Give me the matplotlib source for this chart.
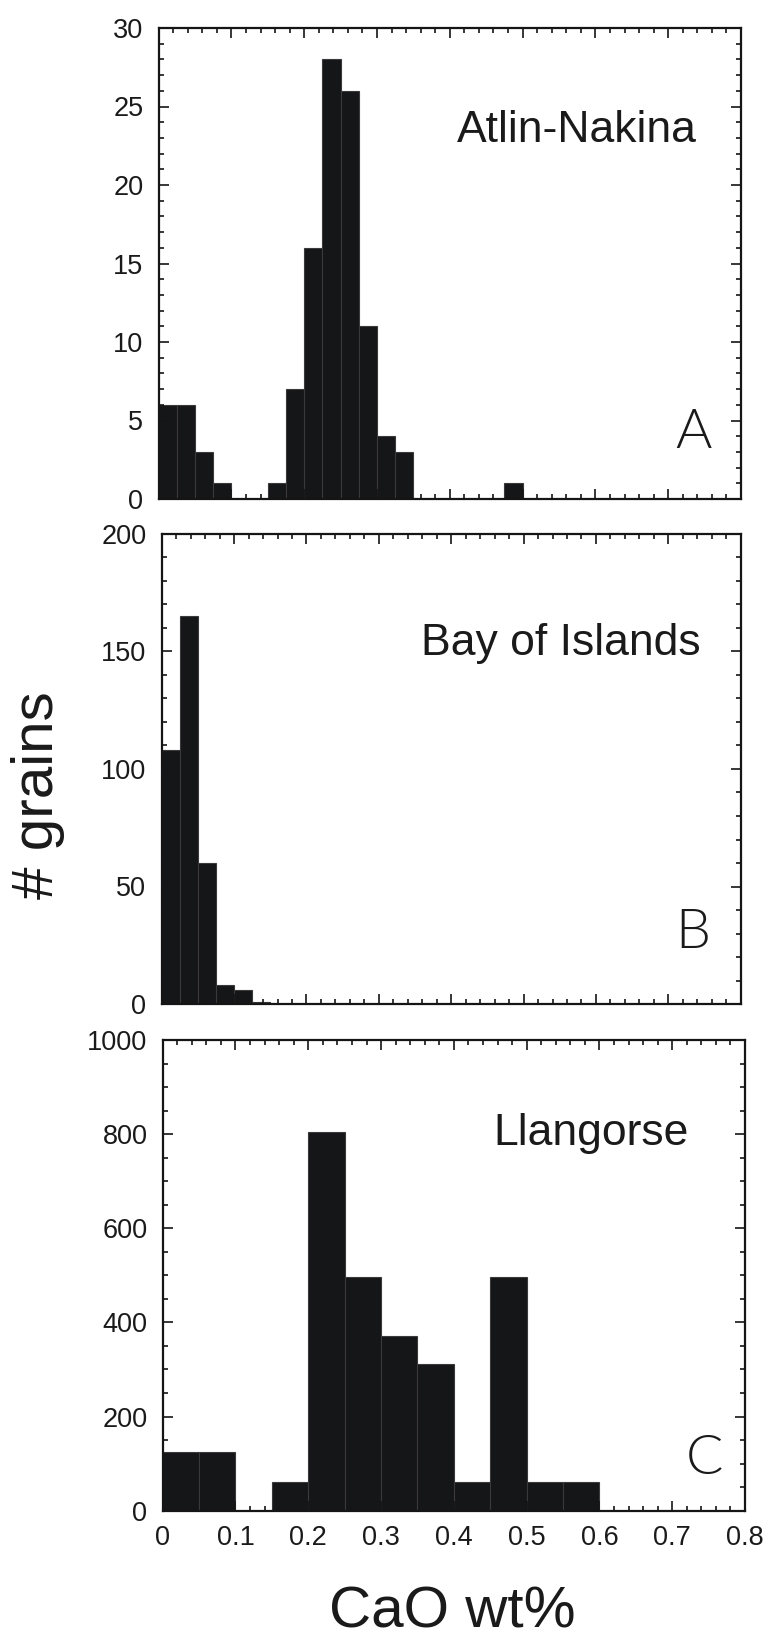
import numpy as np
import matplotlib
matplotlib.use("Agg")
import matplotlib.pyplot as plt
from matplotlib.ticker import MultipleLocator, FuncFormatter

plt.rcParams['font.family'] = ['Liberation Sans', 'DejaVu Sans']

# CaO histograms (counts per bin)
bins_a = np.arange(0, 0.5001, 0.025)
counts_a = [6, 6, 3, 1, 0, 0, 1, 7, 16, 28, 26, 11, 4, 3, 0, 0, 0, 0, 0, 1]

bins_b = np.arange(0, 0.1501, 0.025)
counts_b = [108, 165, 60, 8, 6, 1]

bins_c = np.arange(0, 0.6001, 0.05)
counts_c = [125, 125, 0, 62, 805, 496, 372, 311, 62, 496, 62, 62]

names = ['Atlin-Nakina', 'Bay of Islands', 'Llangorse']
letters = ['A', 'B', 'C']
ymax = [30, 200, 1000]
ymajor = [5, 50, 200]
yminor = [1, 10, 50]

W, H = 768, 1636
fig = plt.figure(figsize=(W / 100, H / 100), dpi=100)

# axes boxes in pixels: left, right, top, bottom
boxes = [(158.6, 741.0, 28.0, 499.0),
         (161.7, 740.7, 534.0, 1004.0),
         (162.7, 745.0, 1040.0, 1510.7)]
name_pos = [(0.924, 0.757), (0.93, 0.743), (0.904, 0.777)]
letter_pos = [(0.950, 0.108), (0.947, 0.119), (0.962, 0.078)]

data = [(bins_a, counts_a), (bins_b, counts_b), (bins_c, counts_c)]

for i, (edges, counts) in enumerate(data):
    l, r, t, b = boxes[i]
    ax = fig.add_axes([l / W, 1 - b / H, (r - l) / W, (b - t) / H])
    ax.bar(edges[:-1], counts, width=np.diff(edges), align='edge',
           color='#151618', edgecolor='#3a3a3a', linewidth=0.8)
    ax.set_xlim(0, 0.8)
    ax.set_ylim(0, ymax[i])
    ax.xaxis.set_major_locator(MultipleLocator(0.1))
    ax.xaxis.set_minor_locator(MultipleLocator(0.02))
    ax.xaxis.set_major_formatter(FuncFormatter(lambda v, p: f'{v:g}'))
    ax.yaxis.set_major_locator(MultipleLocator(ymajor[i]))
    ax.yaxis.set_minor_locator(MultipleLocator(yminor[i]))
    ax.tick_params(which='both', direction='in', top=True, right=True,
                   width=1.2, color='#151515')
    ax.tick_params(which='major', length=7.5, labelsize=19.5, labelcolor='#1a1a1a')
    ax.tick_params(which='minor', length=3.8)
    ax.tick_params(axis='y', pad=11)
    ax.tick_params(axis='x', pad=10)
    for s in ax.spines.values():
        s.set_linewidth(1.6)
        s.set_color('#151515')
    if i < 2:
        ax.tick_params(axis='x', labelbottom=False)
    ax.text(name_pos[i][0], name_pos[i][1], names[i], transform=ax.transAxes,
            ha='right', va='baseline', fontsize=32, color='#1a1a1a')
    ax.text(letter_pos[i][0], letter_pos[i][1], letters[i], transform=ax.transAxes,
            ha='right', va='baseline', fontsize=40, color='#1a1a1a',
            family=['Lato', 'DejaVu Sans'], fontweight=300)

fig.text(452 / W, 1 - 1627 / H, 'CaO wt%', ha='center', va='baseline',
         fontsize=42, color='#1a1a1a')
fig.text(38 / W, 1 - 795 / H, '# grains', ha='center', va='center',
         rotation=90, fontsize=42, color='#1a1a1a')

fig.savefig('out.png', dpi=100)
